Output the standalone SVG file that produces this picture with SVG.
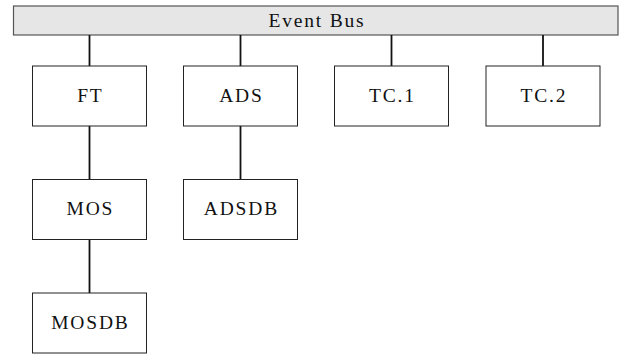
<svg xmlns="http://www.w3.org/2000/svg" width="626" height="356" viewBox="0 0 626 356">
  <style>
    .box { fill: #ffffff; stroke: #222222; stroke-width: 1; }
    .bus { fill: #e6e6e6; stroke: #555555; stroke-width: 1.2; }
    .lbl { font-family: "Liberation Serif", "DejaVu Serif", serif; font-size: 19.5px; letter-spacing: 1.8px; fill: #111111; text-anchor: middle; }
    .link { stroke: #111111; stroke-width: 1.8; fill: none; }
  </style>
  <rect width="626" height="356" fill="#ffffff"/>

  <g id="event-bus">
    <rect class="bus" x="13.5" y="6" width="604.5" height="29"/>
    <text class="lbl" x="317" y="27">Event Bus</text>
  </g>

  <g id="connectors">
    <line class="link" x1="89.5" y1="35" x2="89.5" y2="66"/>
    <line class="link" x1="240.5" y1="35" x2="240.5" y2="66"/>
    <line class="link" x1="391.5" y1="35" x2="391.5" y2="66"/>
    <line class="link" x1="543" y1="35" x2="543" y2="66"/>
    <line class="link" x1="89.5" y1="126" x2="89.5" y2="179.5"/>
    <line class="link" x1="240.5" y1="126" x2="240.5" y2="179.5"/>
    <line class="link" x1="89.5" y1="239.5" x2="89.5" y2="293"/>
  </g>

  <g id="FT">
    <rect class="box" x="32.5" y="66" width="114" height="60"/>
    <text class="lbl" x="90.4" y="101.7">FT</text>
  </g>
  <g id="ADS">
    <rect class="box" x="183.5" y="66" width="114" height="60"/>
    <text class="lbl" x="241.4" y="101.7">ADS</text>
  </g>
  <g id="TC1">
    <rect class="box" x="334.5" y="66" width="114" height="60"/>
    <text class="lbl" x="392.4" y="101.7">TC.1</text>
  </g>
  <g id="TC2">
    <rect class="box" x="486" y="66" width="114" height="60"/>
    <text class="lbl" x="543.9" y="101.7">TC.2</text>
  </g>
  <g id="MOS">
    <rect class="box" x="32.5" y="179.5" width="114" height="60"/>
    <text class="lbl" x="90.4" y="215">MOS</text>
  </g>
  <g id="ADSDB">
    <rect class="box" x="183.5" y="179.5" width="114" height="60"/>
    <text class="lbl" x="241.4" y="215">ADSDB</text>
  </g>
  <g id="MOSDB">
    <rect class="box" x="32.5" y="293" width="114" height="60"/>
    <text class="lbl" x="90.4" y="328.5">MOSDB</text>
  </g>
</svg>
